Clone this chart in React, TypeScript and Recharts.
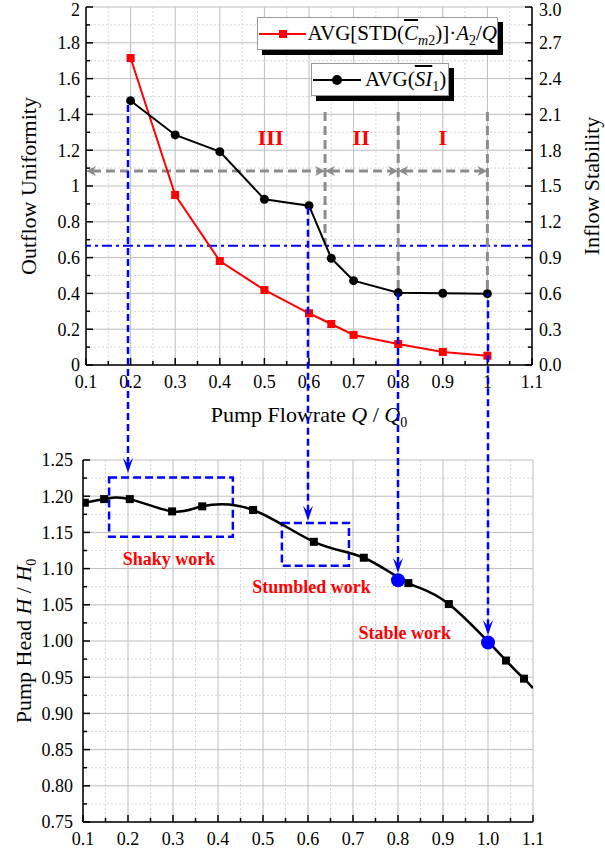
import React from "react";
import {
  ComposedChart,
  Line,
  XAxis,
  YAxis,
  CartesianGrid,
  ReferenceLine,
  ReferenceArea,
  ReferenceDot,
} from "recharts";

const FONT = '"Liberation Serif", "Times New Roman", serif';
const BLUE = "#0000ff";
const RED = "#ff0000";
const GRAY = "#8c8c8c";

// ---- data -------------------------------------------------------------
const FLOW = [0.2, 0.3, 0.4, 0.5, 0.6, 0.65, 0.7, 0.8, 0.9, 1.0];
const OUTFLOW_UNIFORMITY = [1.715, 0.95, 0.581, 0.419, 0.289, 0.229, 0.168, 0.117, 0.073, 0.052];
const INFLOW_STABILITY = [2.215, 1.928, 1.788, 1.389, 1.335, 0.894, 0.707, 0.606, 0.601, 0.598];

const HEAD_FLOW = [0.104, 0.147, 0.204, 0.298, 0.365, 0.478, 0.613, 0.724, 0.823, 0.913, 1.04, 1.08, 1.1];
const HEAD = [1.191, 1.196, 1.196, 1.179, 1.186, 1.181, 1.137, 1.115, 1.08, 1.051, 0.973, 0.948, 0.935];

const OPERATING_FLOW = [0.8, 1.0];
const OPERATING_HEAD = [1.084, 0.998];

// zones on the stability curve
const ZONE_EDGES = [0.1, 0.636, 0.8, 1.0];
const ZONE_EDGE_TOP = 2.12;
const ZONE_EDGE_BOTTOM = [1.0, 0.606, 0.598];
const ZONE_ARROW_Y = 1.626;
const ZONE_NAMES = ["III", "II", "I"];
const ZONE_NAME_X = [0.514, 0.717, 0.9];
const ZONE_NAME_Y = 1.91;
const STABILITY_LIMIT = 1.0;

// links from the stability curve down to the head curve
const LINK_FLOW = [0.2, 0.6, 0.8, 1.0];
const LINK_TIP = [1.232, 1.166, 1.094, 1.008];

// head-curve annotations
const WORK_LABELS = ["Shaky work", "Stumbled work", "Stable work"];
const WORK_X = [0.291, 0.608, 0.815];
const WORK_Y = [1.113, 1.075, 1.012];
const BOXES = [
  { x1: 0.158, x2: 0.433, y1: 1.144, y2: 1.226 },
  { x1: 0.542, x2: 0.691, y1: 1.104, y2: 1.163 },
];

// ticks
const Q_TICKS = [0.1, 0.2, 0.3, 0.4, 0.5, 0.6, 0.7, 0.8, 0.9, 1.0, 1.1];
const Q_MINOR = [0.15, 0.25, 0.35, 0.45, 0.55, 0.65, 0.75, 0.85, 0.95, 1.05];
const UNIF_TICKS = [0, 0.2, 0.4, 0.6, 0.8, 1, 1.2, 1.4, 1.6, 1.8, 2];
const UNIF_MINOR = [0.1, 0.3, 0.5, 0.7, 0.9, 1.1, 1.3, 1.5, 1.7, 1.9];
const STAB_TICKS = [0, 0.3, 0.6, 0.9, 1.2, 1.5, 1.8, 2.1, 2.4, 2.7, 3.0];
const STAB_MINOR = [0.15, 0.45, 0.75, 1.05, 1.35, 1.65, 1.95, 2.25, 2.55, 2.85];
const HEAD_TICKS = [0.75, 0.8, 0.85, 0.9, 0.95, 1.0, 1.05, 1.1, 1.15, 1.2, 1.25];
const HEAD_MINOR = [0.775, 0.825, 0.875, 0.925, 0.975, 1.025, 1.075, 1.125, 1.175, 1.225];

// ---- layout -----------------------------------------------------------
const WIDTH = 605;
const TOP_H = 430;
const TOP_MARGIN = { top: 7, right: 0, bottom: 0, left: 0 };
const TOP_LEFT_W = 86;
const TOP_RIGHT_W = 73;
const TOP_XAXIS_H = 65;

const BOT_OFFSET = 430;
const BOT_H = 422;
const BOT_MARGIN = { top: 30, right: 72, bottom: 0, left: 0 };
const BOT_LEFT_W = 83;
const BOT_XAXIS_H = 30;

const STAB_DOMAIN = [0, 3];
const HEAD_DOMAIN = [0.75, 1.25];

const TOP_PLOT_Y = TOP_MARGIN.top;
const TOP_PLOT_H = TOP_H - TOP_MARGIN.top - TOP_XAXIS_H;
const BOT_PLOT_Y = BOT_OFFSET + BOT_MARGIN.top;
const BOT_PLOT_H = BOT_H - BOT_MARGIN.top - BOT_XAXIS_H;

const TITLE_SIZE = 22;

// page y of a stability value, re-expressed in head units of the lower chart
const stabilityAsHead = (s: number) => {
  const pageY = TOP_PLOT_Y + ((STAB_DOMAIN[1] - s) / (STAB_DOMAIN[1] - STAB_DOMAIN[0])) * TOP_PLOT_H;
  return HEAD_DOMAIN[1] - ((pageY - BOT_PLOT_Y) / BOT_PLOT_H) * (HEAD_DOMAIN[1] - HEAD_DOMAIN[0]);
};

const topRows = FLOW.map((x, i) => ({ x, u: OUTFLOW_UNIFORMITY[i], s: INFLOW_STABILITY[i] }));
const headRows = HEAD_FLOW.map((x, i) => ({ x, h: HEAD[i] }));
const operatingRows = OPERATING_FLOW.map((x, i) => ({ x, h: OPERATING_HEAD[i] }));

// ---- axis ticks drawn inward with minor marks --------------------------
type Side = "left" | "right" | "bottom";
function axisTick(side: Side, majors: number[], fmt: (v: number) => string, gap: number) {
  return (props: any) => {
    const { x, y, payload } = props;
    const v = payload.value;
    const major = majors.some((m) => Math.abs(m - v) < 1e-6);
    const len = major ? 7 : 4;
    const common = { fontFamily: FONT, fontSize: 18, fill: "#000" };
    if (side === "bottom") {
      return (
        <g>
          <line x1={x} y1={y} x2={x} y2={y - len} stroke="#000" strokeWidth={1.5} />
          {major && (
            <text x={x} y={y + gap} textAnchor="middle" {...common}>
              {fmt(v)}
            </text>
          )}
        </g>
      );
    }
    const dir = side === "left" ? 1 : -1;
    // keep the topmost label inside the page
    const ty = Math.max(y, 10);
    return (
      <g>
        <line x1={x} y1={y} x2={x + dir * len} y2={y} stroke="#000" strokeWidth={1.5} />
        {major && (
          <text
            x={x - dir * gap}
            y={ty}
            dy="0.35em"
            textAnchor={side === "left" ? "end" : "start"}
            {...common}
          >
            {fmt(v)}
          </text>
        )}
      </g>
    );
  };
}

const AXIS_LINE = { stroke: "#000", strokeWidth: 1.5 };

const redSquare = (p: any) => (
  <rect key={`r${p.index}`} x={p.cx - 4} y={p.cy - 4} width={8} height={8} fill={RED} />
);
const blackCircle = (p: any) => <circle key={`c${p.index}`} cx={p.cx} cy={p.cy} r={4.5} fill="#000" />;
const headSquare = (p: any) =>
  p.index === HEAD_FLOW.length - 1 ? (
    <g key={`h${p.index}`} />
  ) : (
    <rect key={`h${p.index}`} x={p.cx - 4} y={p.cy - 4} width={8} height={8} fill="#000" />
  );
const blueDot = (p: any) => <circle key={`b${p.index}`} cx={p.cx} cy={p.cy} r={7} fill={BLUE} />;

// dashed blue link with a barbed head at its first point
const linkShape = (p: any) => {
  const { x1, y1, x2, y2 } = p;
  return (
    <g>
      <line x1={x1} y1={y1 - 9} x2={x2} y2={y2} stroke={BLUE} strokeWidth={2.5} strokeDasharray="7 4" />
      <path d={`M${x1},${y1} L${x1 - 5},${y1 - 15} L${x1},${y1 - 9} L${x1 + 5},${y1 - 15} Z`} fill={BLUE} />
    </g>
  );
};

// gray dashed span with arrowheads on both ends
const spanShape = (p: any) => {
  const { x1, y1, x2 } = p;
  return (
    <g>
      <line x1={x1 + 6} y1={y1} x2={x2 - 6} y2={y1} stroke={GRAY} strokeWidth={3} strokeDasharray="9 5" />
      <path d={`M${x1},${y1} L${x1 + 10},${y1 - 5} L${x1 + 7},${y1} L${x1 + 10},${y1 + 5} Z`} fill={GRAY} />
      <path d={`M${x2},${y1} L${x2 - 10},${y1 - 5} L${x2 - 7},${y1} L${x2 - 10},${y1 + 5} Z`} fill={GRAY} />
    </g>
  );
};

const legendBox: React.CSSProperties = {
  position: "absolute",
  height: 33,
  boxSizing: "border-box",
  border: "1px solid #9a9a9a",
  background: "#fff",
  boxShadow: "5px 5px 0 #000",
  display: "flex",
  alignItems: "center",
  fontFamily: FONT,
  fontSize: 21,
  whiteSpace: "nowrap",
  zIndex: 2,
};
const sub: React.CSSProperties = { fontSize: 14, verticalAlign: "-5px", lineHeight: 0 };

function TopChart() {
  return (
    <ComposedChart width={WIDTH} height={TOP_H} margin={TOP_MARGIN} data={topRows}>
      <CartesianGrid
        xAxisId="q"
        yAxisId="left"
        verticalValues={Q_MINOR}
        horizontalValues={UNIF_MINOR}
        stroke="#d6d6d6"
        strokeDasharray="2 2"
      />
      <CartesianGrid xAxisId="q" yAxisId="left" verticalValues={Q_TICKS} horizontalValues={UNIF_TICKS} stroke="#bdbdbd" />
      <XAxis
        xAxisId="q"
        type="number"
        dataKey="x"
        domain={[0.1, 1.1]}
        allowDataOverflow
        ticks={[...Q_TICKS, ...Q_MINOR]}
        interval={0}
        height={TOP_XAXIS_H}
        tickSize={0}
        tickMargin={0}
        tickLine={false}
        axisLine={AXIS_LINE}
        tick={axisTick("bottom", Q_TICKS, (v) => String(v), 23)}
      />
      <XAxis xAxisId="frame" orientation="top" type="number" domain={[0, 1]} height={0} tick={false} tickLine={false} axisLine={AXIS_LINE} />
      <YAxis
        yAxisId="left"
        type="number"
        domain={[0, 2]}
        allowDataOverflow
        ticks={[...UNIF_TICKS, ...UNIF_MINOR]}
        interval={0}
        width={TOP_LEFT_W}
        tickSize={0}
        tickMargin={0}
        tickLine={false}
        axisLine={AXIS_LINE}
        tick={axisTick("left", UNIF_TICKS, (v) => String(v), 6)}
      />
      <YAxis
        yAxisId="right"
        orientation="right"
        type="number"
        domain={STAB_DOMAIN}
        allowDataOverflow
        ticks={[...STAB_TICKS, ...STAB_MINOR]}
        interval={0}
        width={TOP_RIGHT_W}
        tickSize={0}
        tickMargin={0}
        tickLine={false}
        axisLine={AXIS_LINE}
        tick={axisTick("right", STAB_TICKS, (v) => v.toFixed(1), 7)}
      />

      <ReferenceLine xAxisId="q" yAxisId="right" y={STABILITY_LIMIT} stroke={BLUE} strokeWidth={2} strokeDasharray="10 4 3 4" />

      {ZONE_EDGES.slice(1).map((x, i) => (
        <ReferenceLine
          key={`edge${i}`}
          xAxisId="q"
          yAxisId="right"
          segment={[{ x, y: ZONE_EDGE_TOP }, { x, y: ZONE_EDGE_BOTTOM[i] }]}
          stroke={GRAY}
          strokeWidth={3}
          strokeDasharray="9 5"
          ifOverflow="visible"
        />
      ))}
      {ZONE_EDGES.slice(1).map((x, i) => (
        <ReferenceLine
          key={`span${i}`}
          xAxisId="q"
          yAxisId="right"
          segment={[{ x: ZONE_EDGES[i], y: ZONE_ARROW_Y }, { x, y: ZONE_ARROW_Y }]}
          ifOverflow="visible"
          shape={spanShape}
        />
      ))}
      {ZONE_NAMES.map((name, i) => (
        <ReferenceDot
          key={name}
          xAxisId="q"
          yAxisId="right"
          x={ZONE_NAME_X[i]}
          y={ZONE_NAME_Y}
          r={0}
          shape={(p: any) => (
            <text x={p.cx} y={p.cy} dy="0.35em" textAnchor="middle" fontFamily={FONT} fontSize={22} fontWeight="bold" fill={RED}>
              {name}
            </text>
          )}
        />
      ))}

      <Line xAxisId="q" yAxisId="left" dataKey="u" type="linear" stroke={RED} strokeWidth={2} dot={redSquare} activeDot={false} isAnimationActive={false} />
      <Line xAxisId="q" yAxisId="right" dataKey="s" type="linear" stroke="#000" strokeWidth={2} dot={blackCircle} activeDot={false} isAnimationActive={false} />

      <text transform="translate(28,186) rotate(-90)" textAnchor="middle" dy="0.35em" fontFamily={FONT} fontSize={TITLE_SIZE}>
        Outflow Uniformity
      </text>
      <text transform="translate(591,186) rotate(-90)" textAnchor="middle" dy="0.35em" fontFamily={FONT} fontSize={TITLE_SIZE}>
        Inflow Stability
      </text>
      <text x={309} y={422} textAnchor="middle" fontFamily={FONT} fontSize={TITLE_SIZE}>
        Pump Flowrate <tspan fontStyle="italic">Q</tspan> / <tspan fontStyle="italic">Q</tspan>
        <tspan fontSize={14} dy={5}>0</tspan>
      </text>
    </ComposedChart>
  );
}

function BottomChart() {
  return (
    <ComposedChart width={WIDTH} height={BOT_H} margin={BOT_MARGIN}>
      <CartesianGrid
        xAxisId="q"
        yAxisId="head"
        verticalValues={Q_MINOR}
        horizontalValues={HEAD_MINOR}
        stroke="#d6d6d6"
        strokeDasharray="2 2"
      />
      <CartesianGrid xAxisId="q" yAxisId="head" verticalValues={Q_TICKS} horizontalValues={HEAD_TICKS} stroke="#bdbdbd" />
      <XAxis
        xAxisId="q"
        type="number"
        dataKey="x"
        domain={[0.1, 1.1]}
        allowDataOverflow
        ticks={[...Q_TICKS, ...Q_MINOR]}
        interval={0}
        height={BOT_XAXIS_H}
        tickSize={0}
        tickMargin={0}
        tickLine={false}
        axisLine={AXIS_LINE}
        tick={axisTick("bottom", Q_TICKS, (v) => v.toFixed(1), 23)}
      />
      <XAxis xAxisId="frame" orientation="top" type="number" domain={[0, 1]} height={0} tick={false} tickLine={false} axisLine={AXIS_LINE} />
      <YAxis
        yAxisId="head"
        type="number"
        domain={HEAD_DOMAIN}
        allowDataOverflow
        ticks={[...HEAD_TICKS, ...HEAD_MINOR]}
        interval={0}
        width={BOT_LEFT_W}
        tickSize={0}
        tickMargin={0}
        tickLine={false}
        axisLine={AXIS_LINE}
        tick={axisTick("left", HEAD_TICKS, (v) => v.toFixed(2), 10)}
      />
      <YAxis yAxisId="frame" orientation="right" type="number" domain={[0, 1]} width={0} tick={false} tickLine={false} axisLine={AXIS_LINE} />

      {BOXES.map((b, i) => (
        <ReferenceArea
          key={`box${i}`}
          xAxisId="q"
          yAxisId="head"
          x1={b.x1}
          x2={b.x2}
          y1={b.y1}
          y2={b.y2}
          fill="none"
          fillOpacity={0}
          stroke={BLUE}
          strokeWidth={2.5}
          strokeDasharray="8 4"
          ifOverflow="visible"
        />
      ))}

      <Line xAxisId="q" yAxisId="head" data={headRows} dataKey="h" type="natural" stroke="#000" strokeWidth={2.5} dot={headSquare} activeDot={false} isAnimationActive={false} />
      <Line xAxisId="q" yAxisId="head" data={operatingRows} dataKey="h" stroke="none" dot={blueDot} activeDot={false} isAnimationActive={false} />

      {WORK_LABELS.map((label, i) => (
        <ReferenceDot
          key={label}
          xAxisId="q"
          yAxisId="head"
          x={WORK_X[i]}
          y={WORK_Y[i]}
          r={0}
          shape={(p: any) => (
            <text x={p.cx} y={p.cy} dy="0.35em" textAnchor="middle" fontFamily={FONT} fontSize={18} fontWeight="bold" fill={RED}>
              {label}
            </text>
          )}
        />
      ))}

      {LINK_FLOW.map((x, i) => (
        <ReferenceLine
          key={`link${i}`}
          xAxisId="q"
          yAxisId="head"
          segment={[
            { x, y: LINK_TIP[i] },
            { x, y: stabilityAsHead(INFLOW_STABILITY[FLOW.indexOf(x)]) },
          ]}
          ifOverflow="visible"
          shape={linkShape}
        />
      ))}

      <text transform={`translate(23,${BOT_MARGIN.top + BOT_PLOT_H / 2}) rotate(-90)`} textAnchor="middle" dy="0.35em" fontFamily={FONT} fontSize={TITLE_SIZE}>
        Pump Head <tspan fontStyle="italic">H</tspan> / <tspan fontStyle="italic">H</tspan>
        <tspan fontSize={14} dy={5}>0</tspan>
      </text>
    </ComposedChart>
  );
}

export default function App() {
  return (
    <div style={{ position: "absolute", left: 0, top: 0, width: WIDTH, height: 852, background: "#fff", fontFamily: FONT }}>
      <style>{`.recharts-surface { overflow: visible; }`}</style>
      <div style={{ position: "absolute", left: 0, top: 0 }}>
        <TopChart />
      </div>

      <div style={{ ...legendBox, left: 257, top: 17, width: 241 }}>
        <svg width={50} height={14} style={{ marginLeft: 1, marginRight: 2 }}>
          <line x1={0} y1={7} x2={48} y2={7} stroke={RED} strokeWidth={2} />
          <rect x={20} y={3} width={8} height={8} fill={RED} />
        </svg>
        <span>
          AVG[STD(<i style={{ textDecoration: "overline" }}>C</i>
          <span style={sub}>
            <i>m</i>2
          </span>
          )]·<i>A</i>
          <span style={sub}>2</span>/<i>Q</i>
        </span>
      </div>
      <div style={{ ...legendBox, left: 311, top: 63, width: 138 }}>
        <svg width={50} height={14} style={{ marginLeft: 1, marginRight: 2 }}>
          <line x1={0} y1={7} x2={48} y2={7} stroke="#000" strokeWidth={2} />
          <circle cx={24} cy={7} r={5} fill="#000" />
        </svg>
        <span>
          AVG(<i style={{ textDecoration: "overline" }}>SI</i>
          <span style={sub}>1</span>)
        </span>
      </div>

      <div style={{ position: "absolute", left: 0, top: BOT_OFFSET }}>
        <BottomChart />
      </div>
    </div>
  );
}
